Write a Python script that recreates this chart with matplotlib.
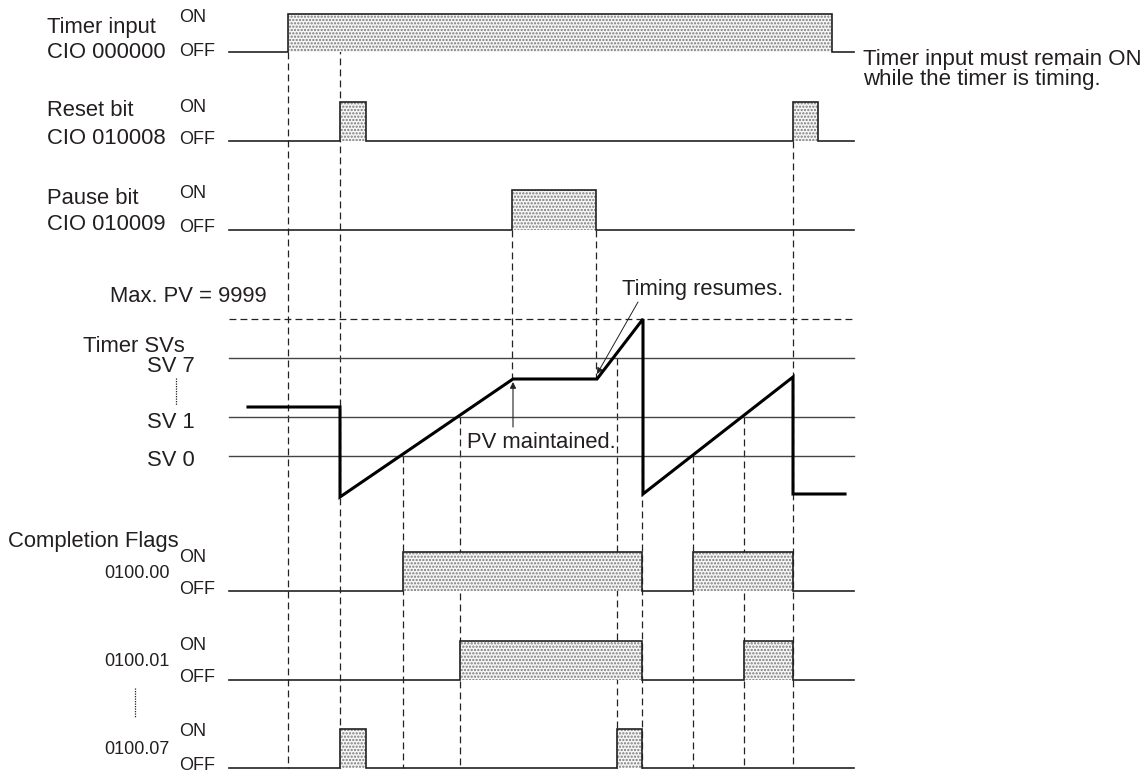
import matplotlib
matplotlib.use("Agg")
import matplotlib.pyplot as plt

plt.rcParams['font.family'] = ['Liberation Sans', 'DejaVu Sans']
plt.rcParams['hatch.linewidth'] = 1.1

TXT = '#231f20'
LINE = '#222222'

# ---------------- data (diagram units: x = time, y = level) ----------------
x_start, x_end = 229, 854

# signal rows: name, label line 1, label line 2, y of ON level, y of OFF level
row_names = ['timer_input', 'reset', 'pause', 'flag00', 'flag01', 'flag07']
row_label1 = ['Timer input', 'Reset bit', 'Pause bit', '', '', '']
row_label2 = ['CIO 000000', 'CIO 010008', 'CIO 010009', '', '', '']
flag_labels = ['0100.00', '0100.01', '0100.07']
row_on_y = [14, 102, 190, 552, 641, 729]
row_off_y = [52, 141, 230, 591, 680, 768]

# ON intervals of each signal
timer_input_on = [(288, 832)]
reset_on = [(340, 366), (793, 818)]
pause_on = [(512, 596)]
flag00_on = [(403, 642), (693, 793)]
flag01_on = [(460, 642), (744, 793)]
flag07_on = [(340, 366), (617, 642)]
row_intervals = [timer_input_on, reset_on, pause_on, flag00_on, flag01_on, flag07_on]

# timer PV trace
pv_t = [248, 340, 340, 513, 597, 643, 643, 793, 793, 845]
pv_v = [407, 407, 497, 379, 379, 319, 494, 377, 494, 494]

# set values
sv_names = ['SV 7', 'SV 1', 'SV 0']
sv_levels = [358, 417, 456]
max_pv_level = 319

# vertical dashed event markers: (x, y_top, y_bottom)
event_x = [288, 340, 403, 460, 512, 596, 617, 642, 693, 744, 793]
event_top = [52, 14, 456, 417, 230, 230, 358, 456, 456, 417, 141]
event_bot = [768, 768, 768, 768, 379, 379, 768, 768, 768, 768, 768]

# ---------------- figure ----------------
fig = plt.figure(figsize=(11.48, 7.73), dpi=100)
ax = fig.add_axes([0, 0, 1, 1])
ax.set_xlim(0, 1148)
ax.set_ylim(773, 0)
ax.axis('off')

dash = (0, (5.5, 3.3))

# dashed event lines (behind)
for x, yt, yb in zip(event_x, event_top, event_bot):
    ax.plot([x, x], [yt, yb], color=LINE, lw=0.9, ls=dash, zorder=1)

# signals
for yon, yoff, ivs in zip(row_on_y, row_off_y, row_intervals):
    xs, ys = [x_start], [yoff]
    for a, b in ivs:
        xs += [a, a, b, b]
        ys += [yoff, yon, yon, yoff]
        ax.fill_between([a, b], [yon, yon], [yoff, yoff], facecolor='#f7f7f7',
                        edgecolor='#7a7a7a', hatch='.....', linewidth=0, zorder=2)
    xs.append(x_end)
    ys.append(yoff)
    ax.plot(xs, ys, color=LINE, lw=1.2, zorder=3, solid_joinstyle='miter')

# ON/OFF labels
on_text_y = [17, 107, 194, 557, 645, 732]
off_text_y = [52, 139, 228, 590, 677, 766]
for yo, yf in zip(on_text_y, off_text_y):
    ax.text(179, yo, 'ON', fontsize=13, color=TXT, va='center', ha='left')
    ax.text(179, yf, 'OFF', fontsize=13, color=TXT, va='center', ha='left')

# bit labels
label1_y = [27, 110, 198]
label2_y = [52, 138, 225]
for i in range(3):
    ax.text(47, label1_y[i], row_label1[i], fontsize=15.8, color=TXT, va='center')
    ax.text(47, label2_y[i], row_label2[i], fontsize=15.8, color=TXT, va='center')

ax.text(863, 60, 'Timer input must remain ON', fontsize=16, color=TXT, va='center')
ax.text(863, 80, 'while the timer is timing.', fontsize=16, color=TXT, va='center')

# SV lines
for lvl in sv_levels:
    ax.plot([x_start, x_end], [lvl, lvl], color='#444444', lw=1.0, zorder=2)
ax.plot([x_start, x_end], [max_pv_level, max_pv_level], color=LINE, lw=0.9, ls=dash, zorder=2)

ax.text(110, 297, 'Max. PV = 9999', fontsize=15.8, color=TXT, va='center')
ax.text(83, 347, 'Timer SVs', fontsize=15.8, color=TXT, va='center')
for name, y in zip(sv_names, [367, 422, 460]):
    ax.text(147, y, name, fontsize=15.8, color=TXT, va='center')
ax.plot([176, 176], [378, 405], color=TXT, lw=0.9, ls=(0, (1, 1)))

# PV trace
ax.plot(pv_t, pv_v, color='black', lw=2.2, zorder=4, solid_joinstyle='miter')

# annotations
ax.annotate('', xy=(513, 382), xytext=(513, 427),
            arrowprops=dict(arrowstyle='-|>', lw=0.8, color=LINE, mutation_scale=9, shrinkA=0, shrinkB=0))
ax.text(467, 443, 'PV maintained.', fontsize=15.8, color=TXT, va='center', zorder=5)
ax.annotate('', xy=(597, 374), xytext=(638, 302),
            arrowprops=dict(arrowstyle='-|>', lw=0.7, color=LINE, mutation_scale=9, shrinkA=0, shrinkB=0))
ax.text(622, 290, 'Timing resumes.', fontsize=15.8, color=TXT, va='center')

# completion flags
ax.text(8, 542, 'Completion Flags', fontsize=15.8, color=TXT, va='center')
for name, y in zip(flag_labels, [574, 662, 750]):
    ax.text(104, y, name, fontsize=13, color=TXT, va='center')
ax.plot([135, 135], [688, 717], color=TXT, lw=0.9, ls=(0, (1, 1)))

fig.savefig('out.png', dpi=100)
